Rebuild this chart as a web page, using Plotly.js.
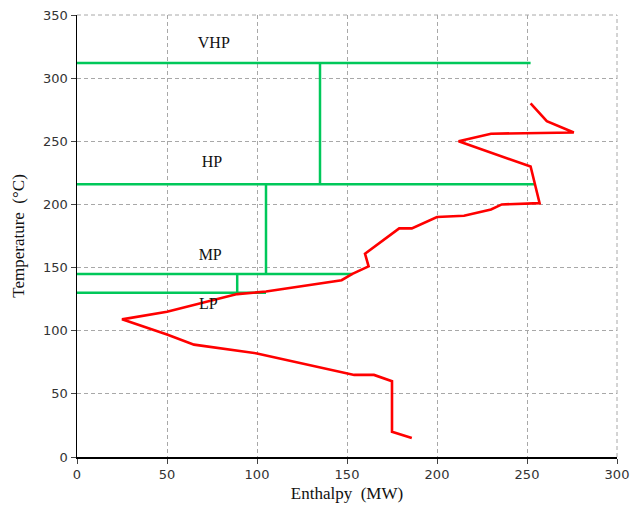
<!DOCTYPE html>
<html>
<head>
<meta charset="utf-8">
<script src="https://cdn.plot.ly/plotly-3.0.1.min.js"></script>
<style>html,body{margin:0;padding:0;background:#fff;}#chart{width:633px;height:506px;}</style>
</head>
<body>
<div id="chart"></div>
<script>
// Red curve (enthalpy MW, temperature °C), from the bottom end to the top end
var curveX = [186, 175, 175, 165, 154, 100, 65, 50, 25, 50, 89, 105, 147, 153, 162, 160, 179, 186, 200, 215, 230, 236, 257, 252, 212, 230, 276, 261, 252];
var curveY = [15, 20, 60, 65, 65, 82, 89, 97, 109, 115, 129, 131, 140, 145, 151, 161, 181, 181, 190, 191, 196, 200, 201, 230, 250, 256, 257, 266, 280];

// Green steam levels
var levelNames = ["VHP", "HP", "MP", "LP"];
var levelTemp = [312, 216, 145, 130];
var levelEnd = [252, 255, 153, 105];
var connectorX = [135, 105, 89];   // vertical link between level i and i+1
var labelX = [76, 75, 74, 73];
var labelY = [327, 233, 159, 120];

var xTicks = [0, 50, 100, 150, 200, 250, 300];
var yTicks = [0, 50, 100, 150, 200, 250, 300, 350];

var green = 'rgb(0,200,90)';
var gridCol = '#a8a8a8';
var gridDash = '4px,3px';
var traces = [];
var gx = [], gy = [];
for (var i = 0; i < levelTemp.length; i++) {
  gx.push(0, levelEnd[i], null);
  gy.push(levelTemp[i], levelTemp[i], null);
}
for (var j = 0; j < connectorX.length; j++) {
  gx.push(connectorX[j], connectorX[j], null);
  gy.push(levelTemp[j], levelTemp[j + 1], null);
}
traces.push({x: gx, y: gy, mode: 'lines', line: {color: green, width: 2.5}, hoverinfo: 'skip', connectgaps: false});
traces.push({x: curveX, y: curveY, mode: 'lines', line: {color: 'rgb(255,0,0)', width: 2.6}});
traces.push({x: labelX, y: labelY, mode: 'text', text: levelNames, textposition: 'middle center',
  textfont: {family: 'Liberation Serif, Times New Roman, serif', size: 16, color: '#111'}});

var layout = {
  width: 633, height: 506,
  margin: {l: 77, r: 16, t: 15, b: 49},
  paper_bgcolor: '#fff', plot_bgcolor: '#fff',
  showlegend: false,
  shapes: [
    {type: 'line', xref: 'paper', yref: 'paper', x0: 0, x1: 1, y0: 1, y1: 1, line: {color: gridCol, width: 1, dash: gridDash}, layer: 'below'},
    {type: 'line', xref: 'paper', yref: 'paper', x0: 1, x1: 1, y0: 0, y1: 1, line: {color: gridCol, width: 1, dash: gridDash}, layer: 'below'}
  ],
  xaxis: {
    range: [0, 300], tickvals: xTicks, ticktext: xTicks.map(String),
    showgrid: true, gridcolor: gridCol, griddash: gridDash, gridwidth: 1,
    showline: true, linecolor: '#000', linewidth: 1.5,
    ticks: 'outside', ticklen: 5, tickcolor: '#444',
    zeroline: false,
    tickfont: {family: 'DejaVu Sans, sans-serif', size: 13, color: '#333'},
    title: {text: 'Enthalpy\u00a0\u00a0(MW)', font: {family: 'Liberation Serif, Times New Roman, serif', size: 17, color: '#111'}, standoff: 6}
  },
  yaxis: {
    range: [0, 350], tickvals: yTicks, ticktext: yTicks.map(String),
    showgrid: true, gridcolor: gridCol, griddash: gridDash, gridwidth: 1,
    showline: true, linecolor: '#000', linewidth: 1.5,
    ticks: 'outside', ticklen: 5, tickcolor: '#444',
    zeroline: false,
    tickfont: {family: 'DejaVu Sans, sans-serif', size: 13, color: '#333'},
    title: {text: 'Temperature\u00a0\u00a0(°C)', font: {family: 'Liberation Serif, Times New Roman, serif', size: 17, color: '#111'}, standoff: 14}
  }
};
Plotly.newPlot('chart', traces, layout, {displayModeBar: false, staticPlot: true});
</script>
</body>
</html>
